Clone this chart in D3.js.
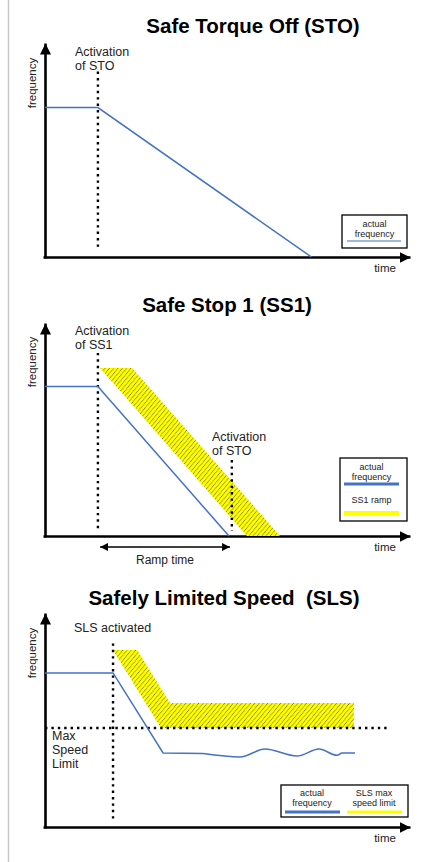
<!DOCTYPE html>
<html>
<head>
<meta charset="utf-8">
<script src="https://cdn.jsdelivr.net/npm/d3@7"></script>
<style>
  body { margin: 0; background: #fff; }
  svg { display: block; font-family: "Liberation Sans", Arial, sans-serif; }
  .title { white-space: pre; }
</style>
</head>
<body>
<script>
//Width and height
var w = 426;
var h = 862;

//Panel titles and axis labels
var titles = ["Safe Torque Off (STO)", "Safe Stop 1 (SS1)", "Safely Limited Speed  (SLS)"];
var xLabel = "time";
var yLabel = "frequency";

//Panel 1: STO
var stoFreq = [{t: 0, f: 83}, {t: 14.7, f: 83}, {t: 74, f: 0}];
var stoMarker = {t: 14.7, f0: 4, f1: 103, label: ["Activation", "of STO"]};

//Panel 2: SS1
var ss1Freq = [{t: 0, f: 83}, {t: 14.7, f: 83}, {t: 51.1, f: 0}];
var ss1Ramp = [{t: 15.3, f: 93.3}, {t: 24.2, f: 93.3}, {t: 65.3, f: 0}, {t: 56.1, f: 0}];
var ss1Markers = [
    {t: 14.7, f0: 3.9, f1: 101.7, label: ["Activation", "of SS1"]},
    {t: 51.9, f0: 2.8, f1: 42.2, label: ["Activation", "of STO"]}
];
var rampTime = [15.3, 51.4];

//Panel 3: SLS
var slsRampDown = [{t: 0, f: 85.6}, {t: 18.9, f: 85.6}, {t: 32.8, f: 41.1}, {t: 43.9, f: 40.8}];
var slsWave = [{t: 43.9, f: 40.8}, {t: 54.2, f: 38.9}, {t: 61.1, f: 43.3}, {t: 70, f: 39.4},
               {t: 76.1, f: 43.3}, {t: 81.2, f: 39.8}, {t: 82.5, f: 41.1}, {t: 86.1, f: 41.1}];
var slsLimitBand = [{t: 18.9, f: 98.3}, {t: 25.6, f: 98.3}, {t: 34.7, f: 68.9}, {t: 85.8, f: 68.9},
                    {t: 85.8, f: 55}, {t: 32.2, f: 55}];
var maxSpeedLimit = 55;
var maxSpeedEnd = 95;
var slsMarker = {t: 18.9, f0: 3.3, f1: 102, label: ["SLS activated"]};

var blue = "#4472c4";
var yellow = "#ffff00";

//Create SVG element
var svg = d3.select("body")
    .append("svg")
    .attr("width", w)
    .attr("height", h);

var defs = svg.append("defs");

//Arrowhead for axes
defs.append("marker")
    .attr("id", "arrow")
    .attr("viewBox", "0 0 10 10")
    .attr("refX", 10).attr("refY", 5)
    .attr("markerWidth", 11).attr("markerHeight", 11)
    .attr("markerUnits", "userSpaceOnUse")
    .attr("orient", "auto")
    .append("path")
    .attr("d", "M0,0L10,5L0,10Z")
    .attr("fill", "#000");

//Small arrowhead for ramp time
defs.append("marker")
    .attr("id", "arrowSmall")
    .attr("viewBox", "0 0 10 10")
    .attr("refX", 10).attr("refY", 5)
    .attr("markerWidth", 8).attr("markerHeight", 8)
    .attr("markerUnits", "userSpaceOnUse")
    .attr("orient", "auto-start-reverse")
    .append("path")
    .attr("d", "M0,0L10,5L0,10Z")
    .attr("fill", "#000");

//Hatch pattern for yellow bands
var hatch = defs.append("pattern")
    .attr("id", "hatch")
    .attr("patternUnits", "userSpaceOnUse")
    .attr("width", 3.3).attr("height", 3.3)
    .attr("patternTransform", "rotate(40)");
hatch.append("rect").attr("width", 3.3).attr("height", 3.3).attr("fill", yellow);
hatch.append("line")
    .attr("x1", 0.5).attr("x2", 0.5).attr("y1", 0).attr("y2", 3.3)
    .attr("stroke", "#333").attr("stroke-width", 0.6)
    .attr("stroke-dasharray", "1.1,0.55");

//Left gray border
svg.append("line")
    .attr("x1", 8.5).attr("x2", 8.5).attr("y1", 0).attr("y2", h)
    .attr("stroke", "#c8c8c8").attr("stroke-width", 1.5);

//Panel layout: axis baseline and title positions
var panels = [
    {axisY: 257, top: 43, titleX: 253, titleY: 33},
    {axisY: 536, top: 323, titleX: 227, titleY: 312},
    {axisY: 827, top: 613, titleX: 224, titleY: 605}
];

var x0 = 45, x1 = 405;

var makePanel = function(p, i) {
    var g = svg.append("g");
    var xScale = d3.scaleLinear().domain([0, 100]).range([x0, x1]);
    var yScale = d3.scaleLinear().domain([0, 100]).range([p.axisY, p.axisY - 180]);

    //Title
    g.append("text")
        .attr("class", "title")
        .attr("x", p.titleX).attr("y", p.titleY)
        .attr("text-anchor", "middle")
        .attr("font-size", 20.5).attr("font-weight", "bold")
        .text(titles[i]);

    //X axis
    var xAxis = d3.axisBottom(d3.scaleLinear().domain([0, 100]).range([x0 - 2, 410]))
        .tickValues([]).tickSizeOuter(0);
    g.append("g")
        .attr("transform", "translate(0," + p.axisY + ")")
        .call(xAxis)
        .select(".domain")
        .attr("stroke", "#000").attr("stroke-width", 2.6)
        .attr("marker-end", "url(#arrow)");

    //Y axis
    var yAxis = d3.axisLeft(d3.scaleLinear().domain([0, 100]).range([p.axisY + 1, p.top]))
        .tickValues([]).tickSizeOuter(0);
    g.append("g")
        .attr("transform", "translate(" + x0 + ",0)")
        .call(yAxis)
        .select(".domain")
        .attr("stroke", "#000").attr("stroke-width", 2.6)
        .attr("marker-end", "url(#arrow)");

    //Axis labels
    g.append("text")
        .attr("x", 385).attr("y", p.axisY + 15)
        .attr("text-anchor", "middle")
        .attr("font-size", 11.5).attr("fill", "#222")
        .text(xLabel);
    g.append("text")
        .attr("transform", "translate(36," + (p.axisY - 174) + ") rotate(-90)")
        .attr("text-anchor", "middle")
        .attr("font-size", 11.5).attr("fill", "#222")
        .text(yLabel);

    return {g: g, x: xScale, y: yScale};
};

var line = function(xs, ys) {
    return d3.line().x(function(d) { return xs(d.t); }).y(function(d) { return ys(d.f); });
};

var drawMarker = function(pn, m, labelX, labelY) {
    pn.g.append("line")
        .attr("x1", pn.x(m.t)).attr("x2", pn.x(m.t))
        .attr("y1", pn.y(m.f1)).attr("y2", pn.y(m.f0))
        .attr("stroke", "#000").attr("stroke-width", 2.4)
        .attr("stroke-dasharray", "2.4,4");
    pn.g.selectAll(null)
        .data(m.label)
        .enter()
        .append("text")
        .attr("x", labelX)
        .attr("y", function(d, k) { return labelY + k * 13.5; })
        .attr("font-size", 12.5).attr("fill", "#222")
        .text(function(d) { return d; });
};

var drawBand = function(pn, data) {
    pn.g.append("path")
        .attr("d", line(pn.x, pn.y)(data) + "Z")
        .attr("fill", "url(#hatch)");
};

var drawFreq = function(pn, data, curve) {
    pn.g.append("path")
        .attr("d", line(pn.x, pn.y).curve(curve || d3.curveLinear)(data))
        .attr("fill", "none")
        .attr("stroke", blue).attr("stroke-width", 1.5);
};

var drawLegend = function(g, bx, by, bw, bh, items) {
    g.append("rect")
        .attr("x", bx).attr("y", by).attr("width", bw).attr("height", bh)
        .attr("fill", "#fff").attr("stroke", "#000").attr("stroke-width", 1.3);
    items.forEach(function(it) {
        g.selectAll(null)
            .data(it.lines)
            .enter()
            .append("text")
            .attr("x", it.cx)
            .attr("y", function(d, k) { return it.ty + k * 10; })
            .attr("text-anchor", "middle")
            .attr("font-size", 9).attr("fill", "#222")
            .text(function(d) { return d; });
        g.append("line")
            .attr("x1", it.lx0).attr("x2", it.lx1)
            .attr("y1", it.ly).attr("y2", it.ly)
            .attr("stroke", it.color).attr("stroke-width", it.sw);
    });
};

//Panel 1
var p1 = makePanel(panels[0], 0);
drawMarker(p1, stoMarker, 75, 56);
drawFreq(p1, stoFreq);
drawLegend(p1.g, 342, 215, 65, 33, [
    {lines: ["actual", "frequency"], cx: 374.5, ty: 227, lx0: 347, lx1: 401, ly: 241, color: blue, sw: 1.2}
]);

//Panel 2
var p2 = makePanel(panels[1], 1);
drawBand(p2, ss1Ramp);
drawMarker(p2, ss1Markers[0], 75, 335);
drawMarker(p2, ss1Markers[1], 212, 441);
drawFreq(p2, ss1Freq);
p2.g.append("line")
    .attr("x1", p2.x(rampTime[0])).attr("x2", p2.x(rampTime[1]))
    .attr("y1", 547).attr("y2", 547)
    .attr("stroke", "#000").attr("stroke-width", 1.3)
    .attr("marker-start", "url(#arrowSmall)")
    .attr("marker-end", "url(#arrowSmall)");
p2.g.append("text")
    .attr("x", 165).attr("y", 564)
    .attr("text-anchor", "middle")
    .attr("font-size", 12).attr("fill", "#222")
    .text("Ramp time");
drawLegend(p2.g, 340, 458, 67, 63, [
    {lines: ["actual", "frequency"], cx: 371.5, ty: 470, lx0: 344, lx1: 399, ly: 484, color: blue, sw: 3},
    {lines: ["SS1 ramp"], cx: 371.5, ty: 503, lx0: 344, lx1: 399, ly: 513, color: yellow, sw: 4}
]);

//Panel 3
var p3 = makePanel(panels[2], 2);
drawBand(p3, slsLimitBand);
p3.g.append("line")
    .attr("x1", p3.x(0)).attr("x2", p3.x(maxSpeedEnd))
    .attr("y1", p3.y(maxSpeedLimit)).attr("y2", p3.y(maxSpeedLimit))
    .attr("stroke", "#000").attr("stroke-width", 2.4)
    .attr("stroke-dasharray", "2.4,4");
drawMarker(p3, slsMarker, 74, 632);
p3.g.selectAll(null)
    .data(["Max", "Speed", "Limit"])
    .enter()
    .append("text")
    .attr("x", 52)
    .attr("y", function(d, k) { return 740 + k * 14; })
    .attr("font-size", 12.5).attr("fill", "#222")
    .text(function(d) { return d; });
drawFreq(p3, slsRampDown);
drawFreq(p3, slsWave, d3.curveMonotoneX);
drawLegend(p3.g, 281, 785, 127, 32, [
    {lines: ["actual", "frequency"], cx: 312, ty: 796, lx0: 285, lx1: 340, ly: 812, color: blue, sw: 3},
    {lines: ["SLS max", "speed limit"], cx: 374, ty: 796, lx0: 347, lx1: 402, ly: 812, color: yellow, sw: 3}
]);
</script>
</body>
</html>
